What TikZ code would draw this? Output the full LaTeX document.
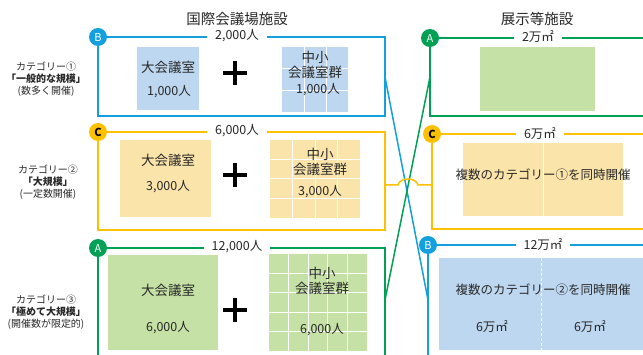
\documentclass[tikz,border=0pt]{standalone}
\usepackage{fontspec}
\setmainfont{Noto Sans CJK JP}
\definecolor{cBlue}{RGB}{20,160,222}
\definecolor{cGreen}{RGB}{0,160,85}
\definecolor{cYellow}{RGB}{255,192,0}
\definecolor{fBlue}{RGB}{189,215,240}
\definecolor{fYellow}{RGB}{250,228,170}
\definecolor{fGreen}{RGB}{197,225,165}
\definecolor{txt}{RGB}{40,40,40}
\tikzset{
  lB/.style={draw=cBlue,line width=1.5pt},
  lG/.style={draw=cGreen,line width=1.5pt},
  lY/.style={draw=cYellow,line width=1.5pt},
  circ/.style={circle,minimum size=18pt,inner sep=0pt,font=\fontsize{11}{12}\selectfont},
  lab/.style={fill=white,inner xsep=8pt,inner ysep=1pt,text=txt,font=\fontsize{12.5}{14}\selectfont},
  big/.style={text=txt,font=\fontsize{13.5}{15.5}\selectfont},
  num/.style={text=txt,font=\fontsize{12.5}{14}\selectfont},
  cat/.style={align=center,text=txt,font=\fontsize{10}{12}\selectfont},
  head/.style={text=txt,font=\fontsize{14.5}{16}\selectfont},
  gridw/.style={draw=white,line width=1pt},
  plus/.style={line width=4pt,draw=black},
}
\begin{document}
\begin{tikzpicture}[x=1pt,y=-1pt]
\useasboundingbox (0,0) rectangle (643,355);
\clip (0,0) rectangle (643,355);

% headers
\node[head] (h1) at (237,19) {国際会議場施設};
\node[head] (h2) at (537,19) {展示等施設};

% category labels
\node[cat] (k1) at (46,79) {カテゴリー①\\\textbf{「一般的な規模」}\\(数多く開催)};
\node[cat] (k2) at (48,182) {カテゴリー②\\\textbf{「大規模」}\\(一定数開催)};
\node[cat] (k3) at (46,312) {カテゴリー③\\\textbf{「極めて大規模」}\\(開催数が限定的)};

% ---------- fills ----------
% blue left
\fill[fBlue] (137,47) rectangle (199,110);
\fill[fBlue] (282,47) rectangle (348,112);
\foreach \x in {304,326} \draw[gridw] (\x,47) -- (\x,112);
\foreach \y in {68.5,90.5} \draw[gridw] (282,\y) -- (348,\y);
% yellow left
\fill[fYellow] (120,140) rectangle (211,217);
\fill[fYellow] (270,140) rectangle (360,218);
\foreach \x in {292.5,315,337.5} \draw[gridw] (\x,140) -- (\x,218);
\foreach \y in {159.5,179,198.5} \draw[gridw] (270,\y) -- (360,\y);
% green left
\fill[fGreen] (108,255) rectangle (218,350);
\fill[fGreen] (269,254) rectangle (367,351);
\foreach \x in {288.6,308.2,327.8,347.4} \draw[gridw] (\x,254) -- (\x,351);
\foreach \y in {273.4,292.8,312.2,331.6} \draw[gridw] (269,\y) -- (367,\y);
% green right
\fill[fGreen] (480,47) rectangle (595,111);
% yellow right
\fill[fYellow] (463,143) rectangle (623,216);
\draw[gridw] (543,143) -- (543,216);
% blue right
\fill[fBlue] (439,258) rectangle (650,350);
\draw[gridw,dashed,dash pattern=on 3pt off 2pt] (541,258) -- (541,350);

% ---------- texts in boxes ----------
\node[big] (t1) at (168,67) {大会議室};
\node[num] (n1) at (169,92) {1,000人};
\node[big,align=center] (t2) at (315,65) {中小\\会議室群};
\node[num] (n2) at (318,90) {1,000人};

\node[big] (t3) at (168,160) {大会議室};
\node[num] (n3) at (168,187) {3,000人};
\node[big,align=center] (t4) at (320,162) {中小\\会議室群};
\node[num] (n4) at (320,192) {3,000人};

\node[big] (t5) at (168,290) {大会議室};
\node[num] (n5) at (168,328) {6,000人};
\node[big,align=center] (t6) at (322,281) {中小\\会議室群};
\node[num] (n6) at (322,330) {6,000人};

\node[num,font=\fontsize{12.5}{14}\selectfont] (t7) at (543,175) {複数のカテゴリー①を同時開催};
\node[num,font=\fontsize{12.5}{14}\selectfont] (t8) at (543,290) {複数のカテゴリー②を同時開催};
\node[num] (n8a) at (492,327) {6万㎡};
\node[num] (n8b) at (590,327) {6万㎡};

% plus signs
\draw[plus] (223,73.5) -- (247,73.5) (235,61.5) -- (235,85.5);
\draw[plus] (223,175.5) -- (247,175.5) (235,163.5) -- (235,187.5);
\draw[plus] (223,310) -- (247,310) (235,298) -- (235,322);

% ---------- frames ----------
% circles (nodes)
\node[circ,fill=cBlue,text=white] (cB1) at (98,37) {B};
\node[circ,fill=cYellow,text=black,font=\fontsize{11}{12}\selectfont\bfseries] (cC1) at (98,132) {C};
\node[circ,fill=cGreen,text=white] (cA1) at (98,248) {A};
\node[circ,fill=cGreen,text=white] (cA2) at (430,38) {A};
\node[circ,fill=cYellow,text=black,font=\fontsize{11}{12}\selectfont\bfseries] (cC2) at (432,134) {C};
\node[circ,fill=cBlue,text=white] (cB2) at (428,245) {B};

% left blue box
\draw[lB] (cB1.east) -- (385,37) -- (385,116) -- (98,116) -- (cB1.south);
\node[lab] (lb1) at (237,36) {2,000人};
% left yellow box
\draw[lY] (cC1.east) -- (385,132) -- (385,230) -- (98,230) -- (cC1.south);
\node[lab] (ly1) at (237,131) {6,000人};
% left green box
\draw[lG] (cA1.east) -- (385,248) -- (385,360);
\draw[lG] (cA1.south) -- (98,360);
\node[lab] (lg1) at (237,246.5) {12,000人};

% right green box
\draw[lG] (cA2.east) -- (650,38);
\draw[lG] (cA2.south) -- (430,116) -- (650,116);
\node[lab] (lg2) at (538,37) {2万㎡};
% right yellow box
\draw[lY] (cC2.east) -- (650,134);
\draw[lY] (cC2.south) -- (432,229) -- (650,229);
\node[lab] (ly2) at (540,134) {6万㎡};
% right blue box
\draw[lB] (cB2.east) -- (650,245);
\draw[lB] (cB2.south) -- (428,360);
\node[lab] (lb2) at (543,245) {12万㎡};

% connectors
\coordinate (pB1) at (385,77);
\coordinate (pB2) at (428,300);
\coordinate (pG1) at (430,77);
\coordinate (pG2) at (385,300);
\coordinate (pY1) at (385,185);
\coordinate (pY2) at (432,185);
\draw[lB] (pB1) -- (pB2);
\draw[lG] (pG1) -- (pG2);
\draw[lY] (pY1) -- (398,185) .. controls (400,177) and (416,177) .. (418,185) -- (pY2);
\end{tikzpicture}
\end{document}
